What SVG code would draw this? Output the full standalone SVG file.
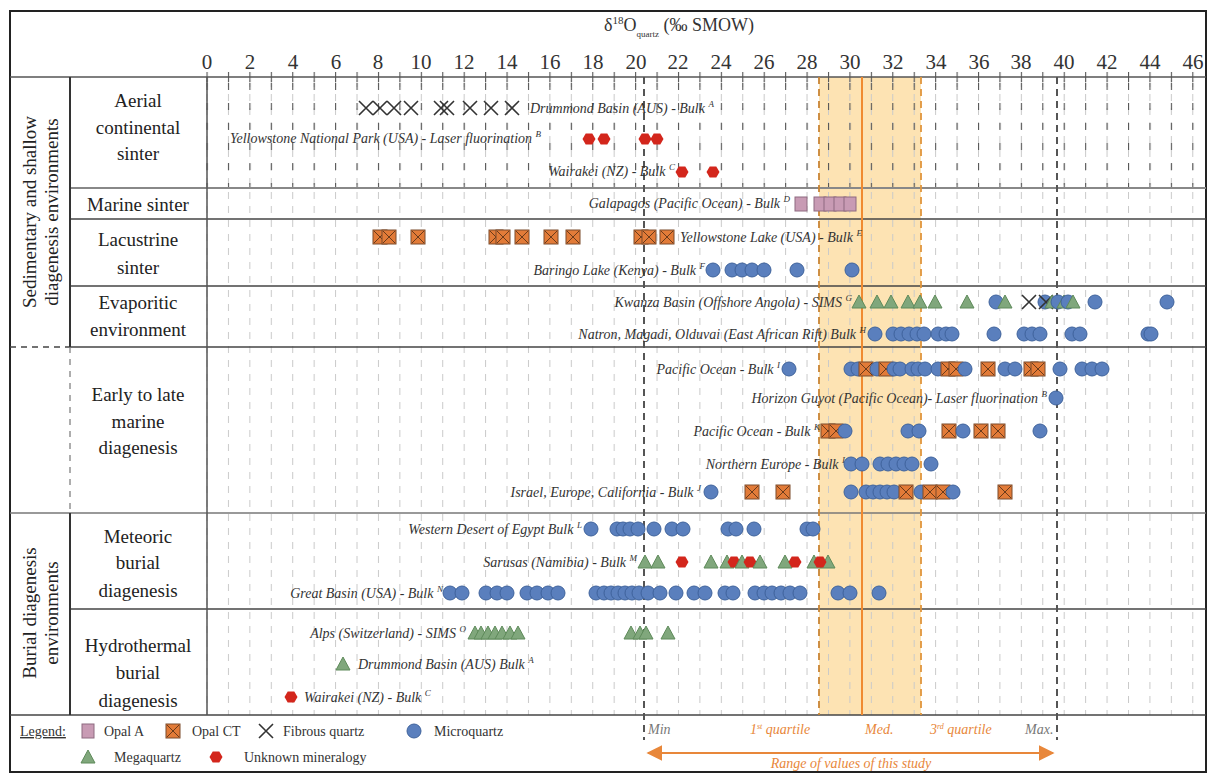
<svg xmlns="http://www.w3.org/2000/svg" width="1211" height="774" viewBox="0 0 1211 774" font-family="'Liberation Serif', 'Times New Roman', serif">
<style>
text{font-family:'Liberation Serif','Times New Roman',serif}
.lab{font-size:19px;fill:#222;text-anchor:middle}
.grp{font-size:19px;fill:#222;text-anchor:middle}
.tk{font-size:21px;fill:#333;text-anchor:middle}
.ds{font-size:14px;font-style:italic;fill:#333}
.dse{font-size:14px;font-style:italic;fill:#333;text-anchor:end}
.leg{font-size:14px;fill:#333}
.st{font-size:14px;font-style:italic}
.row{stroke:#444;stroke-width:1.5;fill:none}
</style>
<defs>
<pattern id="grid" x="206.5" y="78" width="21.43" height="14" patternUnits="userSpaceOnUse"><line x1="0.5" y1="2" x2="0.5" y2="9" stroke="#c9c9c9" stroke-width="1"/></pattern>
<pattern id="gridA" x="206.5" y="80" width="21.43" height="20" patternUnits="userSpaceOnUse"><line x1="0.5" y1="3" x2="0.5" y2="10" stroke="#555" stroke-width="1.2"/></pattern>
<pattern id="ticks" x="206.5" y="72" width="21.43" height="10" patternUnits="userSpaceOnUse"><line x1="0.5" y1="0" x2="0.5" y2="10" stroke="#555" stroke-width="1.2"/></pattern>
<g id="mq"><circle r="7" fill="#5a7fbd" stroke="#3f639c" stroke-width="1"/></g>
<g id="oct"><rect x="-7" y="-7" width="14" height="14" fill="#e27b38" stroke="#7a4a2a" stroke-width="1"/><path d="M-6-6L6 6M6-6L-6 6" stroke="#6b3b1b" stroke-width="1"/></g>
<g id="fq"><path d="M-7-7L7 7M7-7L-7 7" stroke="#333" stroke-width="1.6" fill="none"/></g>
<g id="mg"><polygon points="0,-7 7,6 -7,6" fill="#80a77c" stroke="#5e8a5a" stroke-width="1"/></g>
<g id="uk"><polygon points="6.5,0 3.3,-5.6 -3.3,-5.6 -6.5,0 -3.3,5.6 3.3,5.6" fill="#d3261c"/></g>
<g id="oa"><rect x="-6" y="-7" width="12" height="14" fill="#c89bb4" stroke="#8e6a80" stroke-width="1"/></g>
<marker id="ah" viewBox="0 0 10 10" refX="9" refY="5" markerWidth="8" markerHeight="8" orient="auto-start-reverse"><path d="M0,0L10,5L0,10z" fill="#e8873a"/></marker>
</defs>
<rect width="1211" height="774" fill="#fff"/>

<g id="background">
<rect x="819" y="77" width="102" height="638" fill="#fde3b3"/>
<rect x="200" y="78" width="1006" height="637" fill="url(#grid)"/>
<rect x="200" y="80" width="1006" height="107" fill="url(#gridA)"/>
<rect x="200" y="72" width="1006" height="10" fill="url(#ticks)"/>
</g>

<g id="frame">
<rect x="10" y="11" width="1196" height="761" fill="none" stroke="#222" stroke-width="2"/>
<line x1="10" y1="77" x2="1206" y2="77" stroke="#555" stroke-width="1.5"/>
<line x1="70" y1="188" x2="1206" y2="188" stroke="#888" stroke-width="2"/>
<line x1="70" y1="219" x2="1206" y2="219" class="row"/>
<line x1="70" y1="286" x2="1206" y2="286" class="row"/>
<line x1="70" y1="347" x2="1206" y2="347" class="row"/>
<line x1="10" y1="347" x2="70" y2="347" stroke="#444" stroke-width="1.5" stroke-dasharray="6,5"/>
<line x1="70" y1="513" x2="1206" y2="513" stroke="#777" stroke-width="1.5"/>
<line x1="10" y1="513" x2="70" y2="513" stroke="#777" stroke-width="1.5"/>
<line x1="70" y1="609" x2="1206" y2="609" class="row"/>
<line x1="10" y1="715" x2="1206" y2="715" class="row"/>
<line x1="70" y1="77" x2="70" y2="347" stroke="#333" stroke-width="2"/>
<line x1="70" y1="347" x2="70" y2="513" stroke="#777" stroke-width="1.2" stroke-dasharray="6,6"/>
<line x1="70" y1="513" x2="70" y2="715" stroke="#333" stroke-width="2"/>
<line x1="207" y1="77" x2="207" y2="715" stroke="#555" stroke-width="1.5"/>
</g>

<g id="axis">
<text x="604" y="31" font-size="18" fill="#333">δ<tspan font-size="11" dy="-7">18</tspan><tspan dy="7">O</tspan><tspan font-size="9" dy="6">quartz</tspan><tspan dy="-6"> (‰ SMOW)</tspan></text>
<text class="tk" x="207" y="69">0</text><text class="tk" x="250" y="69">2</text><text class="tk" x="293" y="69">4</text><text class="tk" x="336" y="69">6</text><text class="tk" x="378" y="69">8</text><text class="tk" x="421" y="69">10</text><text class="tk" x="464" y="69">12</text><text class="tk" x="507" y="69">14</text><text class="tk" x="550" y="69">16</text><text class="tk" x="593" y="69">18</text><text class="tk" x="636" y="69">20</text><text class="tk" x="678" y="69">22</text><text class="tk" x="721" y="69">24</text><text class="tk" x="764" y="69">26</text><text class="tk" x="807" y="69">28</text><text class="tk" x="850" y="69">30</text><text class="tk" x="893" y="69">32</text><text class="tk" x="936" y="69">34</text><text class="tk" x="979" y="69">36</text><text class="tk" x="1021" y="69">38</text><text class="tk" x="1064" y="69">40</text><text class="tk" x="1107" y="69">42</text><text class="tk" x="1150" y="69">44</text><text class="tk" x="1193" y="69">46</text>
</g>

<g id="study-range">
<line x1="644" y1="77" x2="644" y2="740" stroke="#555" stroke-width="2" stroke-dasharray="7,5"/>
<line x1="1057" y1="77" x2="1057" y2="740" stroke="#555" stroke-width="2" stroke-dasharray="7,5"/>
<line x1="819" y1="77" x2="819" y2="715" stroke="#c98434" stroke-width="1.8" stroke-dasharray="7,5"/>
<line x1="921" y1="77" x2="921" y2="715" stroke="#e0953c" stroke-width="1.8" stroke-dasharray="7,5"/>
<line x1="862" y1="77" x2="862" y2="715" stroke="#f08a30" stroke-width="2"/>
<text class="st" x="648" y="734" fill="#777">Min</text>
<text class="st" x="750" y="734" fill="#e8873a">1<tspan font-size="8" dy="-5">st</tspan><tspan dy="5"> quartile</tspan></text>
<text class="st" x="865" y="734" fill="#e8873a">Med.</text>
<text class="st" x="930" y="734" fill="#e8873a">3<tspan font-size="8" dy="-5">rd</tspan><tspan dy="5"> quartile</tspan></text>
<text class="st" x="1025" y="734" fill="#777">Max.</text>
<line x1="648" y1="753" x2="1053" y2="753" stroke="#e8873a" stroke-width="2" marker-start="url(#ah)" marker-end="url(#ah)"/>
<text class="st" x="851" y="768" fill="#e8873a" font-size="16" text-anchor="middle">Range of values of this study</text>
</g>

<g id="group-sedimentary">
<text class="grp" transform="translate(36,212) rotate(-90)">Sedimentary and shallow</text>
<text class="grp" transform="translate(58,212) rotate(-90)">diagenesis environments</text>
</g>
<g id="group-burial">
<text class="grp" transform="translate(36,613) rotate(-90)">Burial diagenesis</text>
<text class="grp" transform="translate(58,613) rotate(-90)">environments</text>
</g>

<g id="env-aerial"><text class="lab" x="138" y="107">Aerial</text><text class="lab" x="138" y="134">continental</text><text class="lab" x="138" y="160">sinter</text></g>
<g id="env-marine"><text class="lab" x="138" y="211">Marine sinter</text></g>
<g id="env-lacustrine"><text class="lab" x="138" y="246">Lacustrine</text><text class="lab" x="138" y="274">sinter</text></g>
<g id="env-evaporitic"><text class="lab" x="138" y="309">Evaporitic</text><text class="lab" x="138" y="336">environment</text></g>
<g id="env-early-late"><text class="lab" x="138" y="401">Early to late</text><text class="lab" x="138" y="428">marine</text><text class="lab" x="138" y="454">diagenesis</text></g>
<g id="env-meteoric"><text class="lab" x="138" y="543">Meteoric</text><text class="lab" x="138" y="569">burial</text><text class="lab" x="138" y="597">diagenesis</text></g>
<g id="env-hydrothermal"><text class="lab" x="138" y="652">Hydrothermal</text><text class="lab" x="138" y="679">burial</text><text class="lab" x="138" y="707">diagenesis</text></g>

<g id="data-drummond-aerial">
<use href="#fq" x="366" y="108"/><use href="#fq" x="380" y="108"/><use href="#fq" x="394" y="108"/><use href="#fq" x="411" y="108"/><use href="#fq" x="441" y="108"/><use href="#fq" x="447" y="108"/><use href="#fq" x="470" y="108"/><use href="#fq" x="491" y="108"/><use href="#fq" x="512" y="108"/>
<text class="ds" x="530" y="113">Drummond Basin (AUS) - Bulk <tspan font-size="9" dy="-6">A</tspan></text>
</g>
<g id="data-yellowstone-np">
<text class="ds" x="230" y="143">Yellowstone National Park (USA) - Laser fluorination <tspan font-size="9" dy="-6">B</tspan></text>
<use href="#uk" x="589" y="139"/><use href="#uk" x="604" y="139"/><use href="#uk" x="645" y="139"/><use href="#uk" x="657" y="139"/>
</g>
<g id="data-wairakei-aerial">
<text class="dse" x="675" y="176">Wairakei (NZ) - Bulk <tspan font-size="9" dy="-6">C</tspan></text>
<use href="#uk" x="682" y="172"/><use href="#uk" x="713" y="172"/>
</g>
<g id="data-galapagos">
<text class="dse" x="790" y="208">Galapagos (Pacific Ocean) - Bulk <tspan font-size="9" dy="-6">D</tspan></text>
<use href="#oa" x="801" y="204"/><use href="#oa" x="820" y="204"/><use href="#oa" x="830" y="204"/><use href="#oa" x="840" y="204"/><use href="#oa" x="850" y="204"/>
</g>
<g id="data-yellowstone-lake">
<use href="#oct" x="380" y="237"/><use href="#oct" x="389" y="237"/><use href="#oct" x="418" y="237"/><use href="#oct" x="496" y="237"/><use href="#oct" x="503" y="237"/><use href="#oct" x="522" y="237"/><use href="#oct" x="551" y="237"/><use href="#oct" x="573" y="237"/><use href="#oct" x="641" y="237"/><use href="#oct" x="649" y="237"/><use href="#oct" x="667" y="237"/>
<text class="ds" x="680" y="242">Yellowstone Lake (USA) - Bulk <tspan font-size="9" dy="-6">E</tspan></text>
</g>
<g id="data-baringo">
<text class="dse" x="705" y="275">Baringo Lake (Kenya) - Bulk <tspan font-size="9" dy="-6">F</tspan></text>
<use href="#mq" x="713" y="270"/><use href="#mq" x="732" y="270"/><use href="#mq" x="742" y="270"/><use href="#mq" x="752" y="270"/><use href="#mq" x="764" y="270"/><use href="#mq" x="797" y="270"/><use href="#mq" x="852" y="270"/>
</g>
<g id="data-kwanza">
<text class="dse" x="852" y="307">Kwanza Basin (Offshore Angola) - SIMS <tspan font-size="9" dy="-6">G</tspan></text>
<use href="#mg" x="859" y="302"/><use href="#mg" x="877" y="302"/><use href="#mg" x="891" y="302"/><use href="#mg" x="908" y="302"/><use href="#mg" x="920" y="302"/><use href="#mg" x="935" y="302"/><use href="#mg" x="967" y="302"/>
<use href="#mq" x="996" y="302"/><use href="#mg" x="1005" y="302"/>
<use href="#fq" x="1029" y="302"/>
<use href="#mq" x="1045" y="302"/><use href="#fq" x="1046" y="302"/><use href="#mg" x="1052" y="302"/><use href="#mq" x="1058" y="302"/><use href="#mg" x="1064" y="302"/><use href="#mq" x="1068" y="302"/><use href="#mg" x="1073" y="302"/>
<use href="#mq" x="1095" y="302"/><use href="#mq" x="1167" y="302"/>
</g>
<g id="data-natron">
<text class="dse" x="866" y="339">Natron, Magadi, Olduvai (East African Rift)  Bulk <tspan font-size="9" dy="-6">H</tspan></text>
<use href="#mq" x="875" y="334"/><use href="#mq" x="893" y="334"/><use href="#mq" x="901" y="334"/><use href="#mq" x="909" y="334"/><use href="#mq" x="917" y="334"/><use href="#mq" x="924" y="334"/><use href="#mq" x="938" y="334"/><use href="#mq" x="946" y="334"/><use href="#mq" x="952" y="334"/><use href="#mq" x="994" y="334"/><use href="#mq" x="1024" y="334"/><use href="#mq" x="1032" y="334"/><use href="#mq" x="1040" y="334"/><use href="#mq" x="1072" y="334"/><use href="#mq" x="1080" y="334"/><use href="#mq" x="1148" y="334"/><use href="#mq" x="1151" y="334"/>
</g>
<g id="data-pacific-i">
<text class="dse" x="780" y="374">Pacific Ocean - Bulk <tspan font-size="9" dy="-6">I</tspan></text>
<use href="#mq" x="789" y="369"/>
<use href="#mq" x="851" y="369"/><use href="#mq" x="858" y="369"/><use href="#oct" x="866" y="369"/><use href="#mq" x="877" y="369"/><use href="#oct" x="886" y="369"/><use href="#mq" x="894" y="369"/><use href="#mq" x="900" y="369"/><use href="#mq" x="912" y="369"/><use href="#mq" x="918" y="369"/><use href="#mq" x="925" y="369"/><use href="#mq" x="938" y="369"/><use href="#oct" x="948" y="369"/><use href="#oct" x="956" y="369"/><use href="#mq" x="965" y="369"/><use href="#oct" x="988" y="369"/><use href="#mq" x="1005" y="369"/><use href="#mq" x="1015" y="369"/><use href="#oct" x="1031" y="369"/><use href="#oct" x="1038" y="369"/><use href="#mq" x="1060" y="369"/><use href="#mq" x="1082" y="369"/><use href="#mq" x="1092" y="369"/><use href="#mq" x="1102" y="369"/>
</g>
<g id="data-horizon-guyot">
<text class="dse" x="1047" y="403">Horizon Guyot (Pacific Ocean)- Laser fluorination <tspan font-size="9" dy="-6">B</tspan></text>
<use href="#mq" x="1056" y="398"/>
</g>
<g id="data-pacific-k">
<text class="dse" x="820" y="436">Pacific Ocean - Bulk <tspan font-size="9" dy="-6">K</tspan></text>
<use href="#oct" x="828" y="431"/><use href="#oct" x="836" y="431"/><use href="#mq" x="845" y="431"/><use href="#mq" x="908" y="431"/><use href="#mq" x="919" y="431"/><use href="#oct" x="949" y="431"/><use href="#mq" x="963" y="431"/><use href="#oct" x="981" y="431"/><use href="#oct" x="998" y="431"/><use href="#mq" x="1040" y="431"/>
</g>
<g id="data-northern-europe">
<text class="dse" x="845" y="469">Northern Europe - Bulk <tspan font-size="9" dy="-6">I</tspan></text>
<use href="#mq" x="851" y="464"/><use href="#mq" x="862" y="464"/><use href="#mq" x="880" y="464"/><use href="#mq" x="888" y="464"/><use href="#mq" x="896" y="464"/><use href="#mq" x="904" y="464"/><use href="#mq" x="912" y="464"/><use href="#mq" x="931" y="464"/>
</g>
<g id="data-israel">
<text class="dse" x="701" y="497">Israel, Europe, California - Bulk <tspan font-size="9" dy="-6">J</tspan></text>
<use href="#mq" x="711" y="492"/><use href="#oct" x="752" y="492"/><use href="#oct" x="783" y="492"/>
<use href="#mq" x="851" y="492"/><use href="#mq" x="866" y="492"/><use href="#mq" x="873" y="492"/><use href="#mq" x="880" y="492"/><use href="#mq" x="887" y="492"/><use href="#mq" x="894" y="492"/><use href="#oct" x="906" y="492"/><use href="#mq" x="921" y="492"/><use href="#oct" x="930" y="492"/><use href="#oct" x="943" y="492"/><use href="#mq" x="953" y="492"/><use href="#oct" x="1005" y="492"/>
</g>
<g id="data-western-desert">
<text class="dse" x="582" y="534">Western Desert of Egypt   Bulk <tspan font-size="9" dy="-6">L</tspan></text>
<use href="#mq" x="591" y="529"/><use href="#mq" x="617" y="529"/><use href="#mq" x="623" y="529"/><use href="#mq" x="630" y="529"/><use href="#mq" x="638" y="529"/><use href="#mq" x="654" y="529"/><use href="#mq" x="672" y="529"/><use href="#mq" x="683" y="529"/><use href="#mq" x="728" y="529"/><use href="#mq" x="736" y="529"/><use href="#mq" x="754" y="529"/><use href="#mq" x="807" y="529"/><use href="#mq" x="813" y="529"/>
</g>
<g id="data-sarusas">
<text class="dse" x="637" y="567">Sarusas (Namibia) - Bulk <tspan font-size="9" dy="-6">M</tspan></text>
<use href="#mg" x="645" y="562"/><use href="#mg" x="658" y="562"/><use href="#uk" x="682" y="562"/><use href="#mg" x="711" y="562"/><use href="#mg" x="727" y="562"/><use href="#uk" x="734" y="562"/><use href="#mg" x="742" y="562"/><use href="#uk" x="750" y="562"/><use href="#mg" x="760" y="562"/><use href="#mg" x="785" y="562"/><use href="#uk" x="795" y="562"/><use href="#mg" x="814" y="562"/><use href="#mg" x="828" y="562"/><use href="#uk" x="820" y="562"/>
</g>
<g id="data-great-basin">
<text class="dse" x="443" y="598">Great Basin (USA) - Bulk <tspan font-size="9" dy="-6">N</tspan></text>
<use href="#mq" x="450" y="593"/><use href="#mq" x="462" y="593"/><use href="#mq" x="486" y="593"/><use href="#mq" x="497" y="593"/><use href="#mq" x="507" y="593"/><use href="#mq" x="527" y="593"/><use href="#mq" x="537" y="593"/><use href="#mq" x="548" y="593"/><use href="#mq" x="558" y="593"/><use href="#mq" x="596" y="593"/><use href="#mq" x="604" y="593"/><use href="#mq" x="611" y="593"/><use href="#mq" x="618" y="593"/><use href="#mq" x="625" y="593"/><use href="#mq" x="632" y="593"/><use href="#mq" x="639" y="593"/><use href="#mq" x="648" y="593"/><use href="#mq" x="660" y="593"/><use href="#mq" x="676" y="593"/><use href="#mq" x="694" y="593"/><use href="#mq" x="705" y="593"/><use href="#mq" x="725" y="593"/><use href="#mq" x="733" y="593"/><use href="#mq" x="755" y="593"/><use href="#mq" x="764" y="593"/><use href="#mq" x="772" y="593"/><use href="#mq" x="781" y="593"/><use href="#mq" x="790" y="593"/><use href="#mq" x="800" y="593"/><use href="#mq" x="838" y="593"/><use href="#mq" x="850" y="593"/><use href="#mq" x="879" y="593"/>
</g>
<g id="data-alps">
<text class="dse" x="466" y="638">Alps (Switzerland) - SIMS <tspan font-size="9" dy="-6">O</tspan></text>
<use href="#mg" x="475" y="633"/><use href="#mg" x="481" y="633"/><use href="#mg" x="488" y="633"/><use href="#mg" x="495" y="633"/><use href="#mg" x="502" y="633"/><use href="#mg" x="510" y="633"/><use href="#mg" x="518" y="633"/><use href="#mg" x="631" y="633"/><use href="#mg" x="640" y="633"/><use href="#mg" x="646" y="633"/><use href="#mg" x="668" y="633"/>
</g>
<g id="data-drummond-burial">
<use href="#mg" x="343" y="664"/>
<text class="ds" x="358" y="669">Drummond Basin (AUS)  Bulk <tspan font-size="9" dy="-6">A</tspan></text>
</g>
<g id="data-wairakei-burial">
<use href="#uk" x="291" y="697"/>
<text class="ds" x="304" y="702">Wairakei (NZ) - Bulk <tspan font-size="9" dy="-6">C</tspan></text>
</g>

<g id="legend">
<text class="leg" x="20" y="736" text-decoration="underline">Legend:</text>
<use href="#oa" x="88" y="731"/><text class="leg" x="104" y="736">Opal A</text>
<use href="#oct" x="173" y="731"/><text class="leg" x="192" y="736">Opal CT</text>
<use href="#fq" x="266" y="731"/><text class="leg" x="283" y="736">Fibrous quartz</text>
<use href="#mq" x="414" y="731"/><text class="leg" x="434" y="736">Microquartz</text>
<use href="#mg" x="88" y="757"/><text class="leg" x="114" y="762">Megaquartz</text>
<use href="#uk" x="216" y="757"/><text class="leg" x="244" y="762">Unknown mineralogy</text>
</g>
</svg>
